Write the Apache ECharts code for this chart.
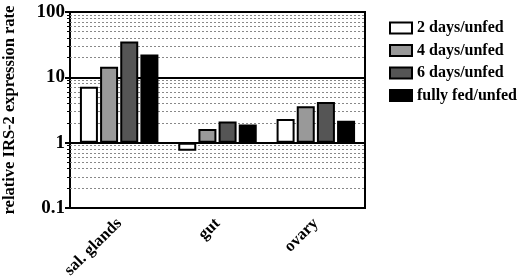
<!DOCTYPE html>
<html>
<head>
<meta charset="utf-8">
<script src="https://cdn.jsdelivr.net/npm/echarts@6/dist/echarts.min.js"></script>
<style>
  html, body { margin: 0; padding: 0; background: #fff; }
  #chart { width: 520px; height: 278px; }
</style>
</head>
<body>
<div id="chart"></div>
<script>
var tissues = ['sal. glands', 'gut', 'ovary'];
var seriesNames = ['2 days/unfed', '4 days/unfed', '6 days/unfed', 'fully fed/unfed'];
var twoDays = [7.2, 0.75, 2.3];
var fourDays = [14.5, 1.62, 3.6];
var sixDays = [35.5, 2.1, 4.2];
var fullyFed = [22.3, 1.9, 2.17];
// dotted minor grid lines (2..9 in each decade)
var minorLines = [0.2, 0.3, 0.4, 0.5, 0.6, 0.7, 0.8, 0.9,
                  2, 3, 4, 5, 6, 7, 8, 9,
                  20, 30, 40, 50, 60, 70, 80, 90];

var colors = ['#ffffff', '#999999', '#555555', '#000000'];
var allValues = [twoDays, fourDays, sixDays, fullyFed];

var dom = document.getElementById('chart');
var myChart = echarts.init(dom);

var series = [];
for (var i = 0; i < seriesNames.length; i++) {
    var s = {
        name: seriesNames[i],
        type: 'bar',
        data: allValues[i],
        barWidth: 18,
        barGap: '12%',
        itemStyle: {
            color: colors[i],
            borderColor: '#000',
            borderWidth: 2
        }
    };
    if (i === 0) {
        s.markLine = {
            silent: true,
            symbol: 'none',
            label: { show: false },
            lineStyle: { color: '#888', type: [2, 2], width: 1 },
            data: minorLines.map(function (v) { return { yAxis: v }; }),
            z: 1
        };
    }
    series.push(s);
}

var option = {
    animation: false,
    textStyle: { fontFamily: 'Liberation Serif', fontWeight: 'bold' },
    grid: {
        left: 70, right: 155, top: 12, bottom: 70,
        outerBoundsMode: 'none',
        containLabel: false,
        show: true, borderColor: '#000', borderWidth: 2
    },
    legend: {
        orient: 'vertical',
        left: 384, top: 15,
        itemWidth: 22, itemHeight: 11,
        itemGap: 6.5,
        icon: 'rect',
        textStyle: { fontFamily: 'Liberation Serif', fontWeight: 'bold', fontSize: 16, color: '#000' },
        data: seriesNames
    },
    xAxis: {
        type: 'category',
        data: tissues,
        axisLine: { lineStyle: { color: '#000', width: 2 } },
        axisTick: { show: false },
        axisLabel: {
            rotate: 45, margin: 13, interval: 0,
            color: '#000', fontFamily: 'Liberation Serif', fontWeight: 'bold', fontSize: 16.5
        }
    },
    yAxis: {
        type: 'log',
        logBase: 10,
        min: 0.1, max: 100,
        name: 'relative IRS-2 expression rate',
        nameLocation: 'middle',
        nameGap: 52,
        nameTextStyle: { fontFamily: 'Liberation Serif', fontWeight: 'bold', fontSize: 16.5, color: '#000' },
        axisLine: { show: true, lineStyle: { color: '#000', width: 2 } },
        axisTick: { show: true, length: 5, lineStyle: { color: '#000', width: 2 } },
        minorTick: { show: true, splitNumber: 9, length: 3, lineStyle: { color: '#000' } },
        splitLine: { show: true, lineStyle: { color: '#000', width: 2 } },
        axisLabel: {
            color: '#000', fontFamily: 'Liberation Serif', fontWeight: 'bold', fontSize: 19, margin: 5,
            formatter: function (v) { return String(v); }
        }
    },
    series: series
};

myChart.setOption(option);
</script>
</body>
</html>
